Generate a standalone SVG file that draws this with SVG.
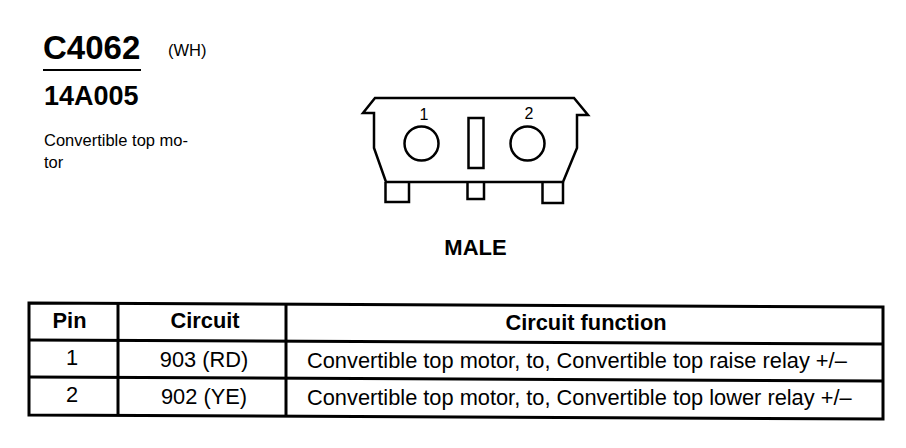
<svg xmlns="http://www.w3.org/2000/svg" width="906" height="448" viewBox="0 0 906 448">
<style>
text{font-family:"Liberation Sans",Arial,sans-serif;fill:#000}
.b{font-weight:bold}
.t{font-size:21.800px;text-anchor:middle}
.f{font-size:21.800px}
.o{fill:none;stroke:#000;stroke-width:2.500}
.l{stroke:#000;stroke-width:3;fill:none}
</style>
<rect width="906" height="448" fill="#fff"/>
<g id="title">
<text x="43" y="59" class="b" font-size="33">C4062</text>
<text x="168" y="56" font-size="16.500">(WH)</text>
<line x1="43" y1="70" x2="141" y2="70" stroke="#000" stroke-width="2"/>
<text x="44" y="105" class="b" font-size="27">14A005</text>
<text x="44" y="146" font-size="16.500">Convertible top mo-</text>
<text x="44" y="168" font-size="16.500">tor</text>
</g>
<g id="connector">
<path class="o" d="M375 98H574L588 115H577V148L563 182H386L374 148V113H363Z"/>
<path class="o" d="M385.500 182V202H409V182"/>
<path class="o" d="M467.500 182V199H484V182"/>
<path class="o" d="M542.500 182V203H563V182"/>
<circle class="o" cx="421.500" cy="143.500" r="17"/>
<circle class="o" cx="527.500" cy="143.500" r="17"/>
<rect class="o" x="468.500" y="118" width="15" height="50"/>
<text x="424" y="120" font-size="16" text-anchor="middle">1</text>
<text x="529" y="119" font-size="16" text-anchor="middle">2</text>
<text x="475.500" y="255" class="b" font-size="22" text-anchor="middle">MALE</text>
</g>
<g id="table">
<path class="l" d="M29 303L883 307V419L29 415Z"/>
<line class="l" x1="29" y1="340" x2="883" y2="344"/>
<line class="l" x1="29" y1="377" x2="883" y2="381"/>
<line class="l" x1="118" y1="304" x2="118" y2="415"/>
<line class="l" x1="286" y1="305" x2="286" y2="416"/>
<text x="69.500" y="328" class="t b">Pin</text>
<text x="205" y="328" class="t b">Circuit</text>
<text x="586" y="330" class="t b">Circuit function</text>
<text x="72" y="365" class="t">1</text>
<text x="204" y="367" class="t">903 (RD)</text>
<text x="307" y="368" class="f">Convertible top motor, to, Convertible top raise relay +/–</text>
<text x="72" y="402" class="t">2</text>
<text x="204" y="404" class="t">902 (YE)</text>
<text x="307" y="405" class="f">Convertible top motor, to, Convertible top lower relay +/–</text>
</g>
</svg>
